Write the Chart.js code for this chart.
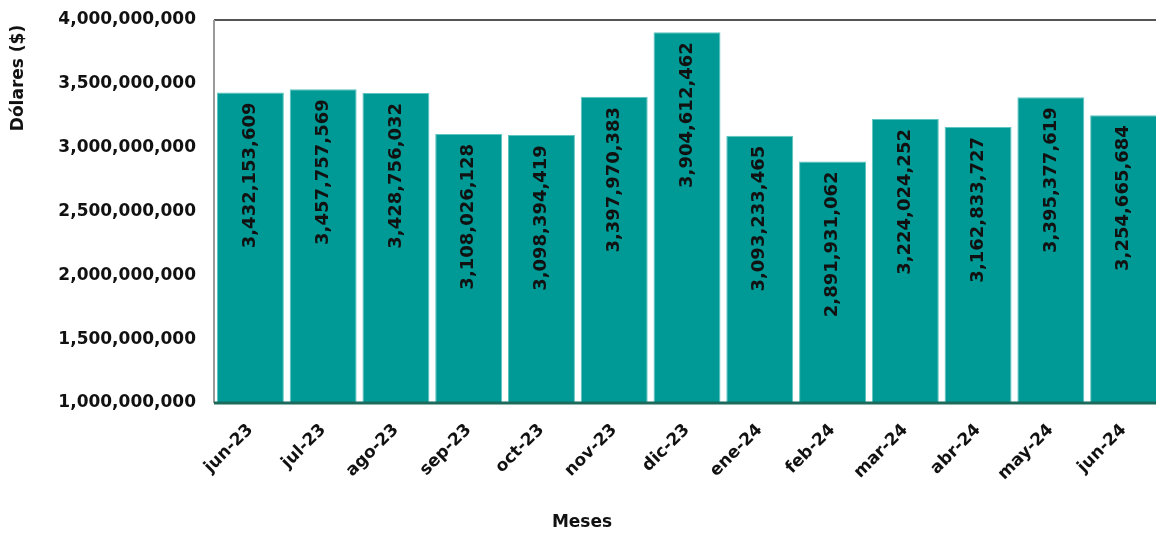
<!DOCTYPE html>
<html>
<head>
<meta charset="utf-8">
<script src="https://cdn.jsdelivr.net/npm/chart.js@4"></script>
<style>
  html, body { margin: 0; padding: 0; background: #fff; }
  #wrap { width: 1156px; height: 533px; overflow: hidden; }
</style>
</head>
<body>
<div id="wrap"><canvas id="ventasChart" width="1160" height="533"></canvas></div>
<script>
// Months and monthly dollar totals
const meses = ['jun-23', 'jul-23', 'ago-23', 'sep-23', 'oct-23', 'nov-23', 'dic-23',
    'ene-24', 'feb-24', 'mar-24', 'abr-24', 'may-24', 'jun-24'];
const dolares = [3432153609, 3457757569, 3428756032, 3108026128, 3098394419, 3397970383,
    3904612462, 3093233465, 2891931062, 3224024252, 3162833727, 3395377619, 3254665684];
const yTicks = [1000000000, 1500000000, 2000000000, 2500000000, 3000000000, 3500000000, 4000000000];

const colors = {
    bar: '#009a96',
    barEdge: '#5ec4c0',
    text: '#111111',
    baseLine: '#1b6a5c',
    frame: '#555555',
    leftAxis: '#9a9a9a'
};
const fontFamily = "'DejaVu Sans', sans-serif";
const fmt = v => v.toLocaleString('en-US');

// Vertical value labels inside each bar, plus the two axis titles and frame lines
const decoraciones = {
    id: 'decoraciones',
    afterDatasetsDraw(chart) {
        const { ctx, chartArea } = chart;
        const meta = chart.getDatasetMeta(0);
        ctx.save();
        ctx.fillStyle = colors.text;
        ctx.font = 'bold 18px ' + fontFamily;
        ctx.textAlign = 'right';
        ctx.textBaseline = 'middle';
        meta.data.forEach((bar, i) => {
            ctx.save();
            ctx.translate(bar.x, bar.y + 10);
            ctx.rotate(-Math.PI / 2);
            ctx.fillText(fmt(dolares[i]), 0, 0);
            ctx.restore();
        });

        // frame: top line, left axis, base line
        const right = chart.width;
        ctx.lineWidth = 2;
        ctx.strokeStyle = colors.frame;
        ctx.beginPath();
        ctx.moveTo(chartArea.left, chartArea.top);
        ctx.lineTo(right, chartArea.top);
        ctx.stroke();
        ctx.strokeStyle = colors.leftAxis;
        ctx.beginPath();
        ctx.moveTo(chartArea.left, chartArea.top);
        ctx.lineTo(chartArea.left, chartArea.bottom);
        ctx.stroke();
        ctx.strokeStyle = colors.baseLine;
        ctx.lineWidth = 3;
        ctx.beginPath();
        ctx.moveTo(chartArea.left, chartArea.bottom);
        ctx.lineTo(right, chartArea.bottom);
        ctx.stroke();

        // axis titles
        ctx.font = 'bold 17px ' + fontFamily;
        ctx.textAlign = 'center';
        ctx.save();
        ctx.translate(19, 78);
        ctx.rotate(-Math.PI / 2);
        ctx.fillText('Dólares ($)', 0, 0);
        ctx.restore();
        ctx.fillText('Meses', 582, 523);
        ctx.restore();
    }
};

new Chart(document.getElementById('ventasChart'), {
    type: 'bar',
    data: {
        labels: meses,
        datasets: [{
            data: dolares,
            backgroundColor: colors.bar,
            borderColor: colors.barEdge,
            borderWidth: { top: 1, left: 1, right: 1, bottom: 0 },
            barPercentage: 0.92,
            categoryPercentage: 1.0
        }]
    },
    options: {
        responsive: false,
        animation: false,
        layout: { padding: { top: 20, right: 0, left: 0, bottom: 0 } },
        plugins: {
            legend: { display: false },
            tooltip: { enabled: false }
        },
        scales: {
            x: {
                offset: true,
                grid: { display: false, drawTicks: false },
                border: { display: false },
                afterFit: scale => {
                    scale.height = 130;
                    scale.paddingLeft = 0;
                    scale.paddingRight = 0;
                },
                ticks: {
                    color: colors.text,
                    font: { family: fontFamily, size: 17, weight: 'bold' },
                    minRotation: 45,
                    maxRotation: 45,
                    padding: 17,
                    autoSkip: false
                }
            },
            y: {
                min: 1000000000,
                max: 4000000000,
                grid: { display: false, drawTicks: false },
                border: { display: false },
                afterFit: scale => {
                    scale.width = 214;
                    scale.paddingTop = 0;
                    scale.paddingBottom = 0;
                },
                afterBuildTicks: scale => { scale.ticks = yTicks.map(v => ({ value: v })); },
                ticks: {
                    color: colors.text,
                    font: { family: fontFamily, size: 17, weight: 'bold' },
                    padding: 18,
                    callback: v => fmt(v)
                }
            }
        }
    },
    plugins: [decoraciones]
});
</script>
</body>
</html>
